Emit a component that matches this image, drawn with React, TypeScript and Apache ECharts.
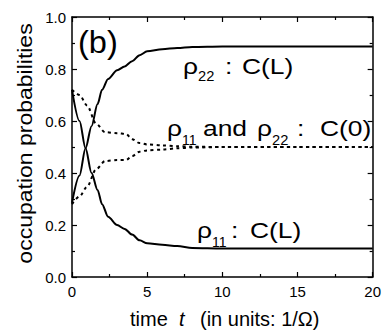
import React, { useEffect, useRef } from "react";
import * as echarts from "echarts";

const tSolid = [0, 0.5, 0.9, 1.3, 1.7, 2.0, 2.4, 3, 3.5, 4, 4.5, 5, 6, 7, 8, 10, 12, 15, 20];
const rho22L = [0.285, 0.39, 0.495, 0.58, 0.665, 0.72, 0.762, 0.795, 0.81, 0.83, 0.853, 0.868, 0.876, 0.881, 0.885, 0.887, 0.887, 0.887, 0.887];
const rho11L = [0.72, 0.6, 0.495, 0.4, 0.335, 0.28, 0.232, 0.2, 0.185, 0.163, 0.141, 0.13, 0.124, 0.119, 0.112, 0.11, 0.11, 0.11, 0.11];

const tDot = [0, 0.5, 1.0, 1.6, 2.2, 3.0, 3.6, 4.0, 4.5, 5, 6, 7, 8, 10, 15, 20];
const rho11C0 = [0.72, 0.7, 0.66, 0.59, 0.557, 0.553, 0.55, 0.53, 0.515, 0.51, 0.506, 0.503, 0.501, 0.5, 0.5, 0.5];
const rho22C0 = [0.28, 0.31, 0.347, 0.414, 0.446, 0.45, 0.45, 0.465, 0.482, 0.487, 0.49, 0.495, 0.498, 0.5, 0.5, 0.5];

const xTicks = [0, 5, 10, 15, 20];
const yTicks = [0, 0.2, 0.4, 0.6, 0.8, 1.0];

const FONT = "'Liberation Sans', Arial, Helvetica, sans-serif";

const zip = (xs: number[], ys: number[]) => xs.map((x, i) => [x, ys[i]]);

function txt(x: number, y: number, text: string, size: number, sx = 1.2, extra: any = {}) {
  return {
    type: "text",
    x,
    y,
    scaleX: sx,
    style: {
      text,
      fontSize: size,
      fontFamily: FONT,
      fill: "#000",
      verticalAlign: "middle",
      align: "left",
      ...extra,
    },
  };
}

export default function App() {
  const ref = useRef<HTMLDivElement>(null);
  useEffect(() => {
    if (!ref.current) return;
    const chart = echarts.init(ref.current, undefined, { renderer: "svg" });
    const axisCommon = {
      type: "value",
      axisLine: { show: true, onZero: false, lineStyle: { color: "#000", width: 1.5 } },
      axisTick: { show: true, inside: true, length: 5, lineStyle: { color: "#000", width: 1.2 } },
      minorTick: { show: true, splitNumber: 2, length: 3, lineStyle: { color: "#000", width: 1.2 } },
      splitLine: { show: false },
    };
    const line = (data: number[][], dotted: boolean) => ({
      type: "line",
      data,
      showSymbol: false,
      smooth: 0.3,
      smoothMonotone: "x",
      lineStyle: dotted
        ? { color: "#000", width: 2, type: [3, 3.5] }
        : { color: "#000", width: 2 },
      xAxisIndex: 0,
      yAxisIndex: 0,
    });
    chart.setOption({
      animation: false,
      backgroundColor: "#fff",
      grid: { left: 72, right: 8, top: 17, bottom: 56 },
      xAxis: [
        {
          ...axisCommon,
          min: 0,
          max: 20,
          interval: 5,
          position: "bottom",
          axisLabel: {
            color: "#000",
            fontSize: 15,
            fontFamily: FONT,
            margin: 7,
            formatter: (v: number) => (xTicks.includes(v) ? String(v) : ""),
          },
        },
        {
          ...axisCommon,
          min: 0,
          max: 20,
          interval: 5,
          position: "top",
          axisLabel: { show: false },
        },
      ],
      yAxis: [
        {
          ...axisCommon,
          min: 0,
          max: 1,
          interval: 0.2,
          position: "left",
          axisLabel: {
            color: "#000",
            fontSize: 15,
            fontFamily: FONT,
            margin: 6,
            formatter: (v: number) => (yTicks.some((t) => Math.abs(t - v) < 1e-9) ? v.toFixed(1) : ""),
          },
        },
        {
          ...axisCommon,
          min: 0,
          max: 1,
          interval: 0.2,
          position: "right",
          axisLabel: { show: false },
        },
      ],
      series: [
        line(zip(tSolid, rho22L), false),
        line(zip(tSolid, rho11L), false),
        line(zip(tDot, rho11C0), true),
        line(zip(tDot, rho22C0), true),
      ],
      graphic: [
        txt(78, 42, "(b)", 31, 1.05),
        // rho22 : C(L)
        txt(183, 66, "ρ", 22),
        txt(198, 76, "22", 14, 1.05),
        txt(225, 66, ":", 22),
        txt(242, 66, "C(L)", 22),
        // rho11 and rho22 : C(0)
        txt(167, 128, "ρ", 22),
        txt(182, 140, "11", 14, 1.0),
        txt(203, 128, "and", 22),
        txt(257, 128, "ρ", 22),
        txt(272, 140, "22", 14, 1.05),
        txt(297, 128, ":", 22),
        txt(320, 128, "C(0)", 22),
        // rho11 : C(L)
        txt(197, 230, "ρ", 22),
        txt(212, 242, "11", 14, 1.0),
        txt(231, 230, ":", 22),
        txt(250, 230, "C(L)", 22),
        // x axis title
        txt(130, 319, "time", 20, 1.0),
        txt(179, 319, "t", 20, 1.0, { fontStyle: "italic" }),
        txt(200, 319, "(in units: 1/Ω)", 20, 1.0),
        // y axis title
        {
          type: "text",
          x: 25,
          y: 143.5,
          rotation: Math.PI / 2,
          scaleX: 1.15,
          style: {
            text: "occupation probabilities",
            fontSize: 20,
            fontFamily: FONT,
            fill: "#000",
            align: "center",
            verticalAlign: "middle",
          },
        },
      ],
    });
    return () => chart.dispose();
  }, []);
  return (
    <div
      ref={ref}
      style={{ position: "fixed", left: 0, top: 0, width: 384, height: 333 }}
    />
  );
}
